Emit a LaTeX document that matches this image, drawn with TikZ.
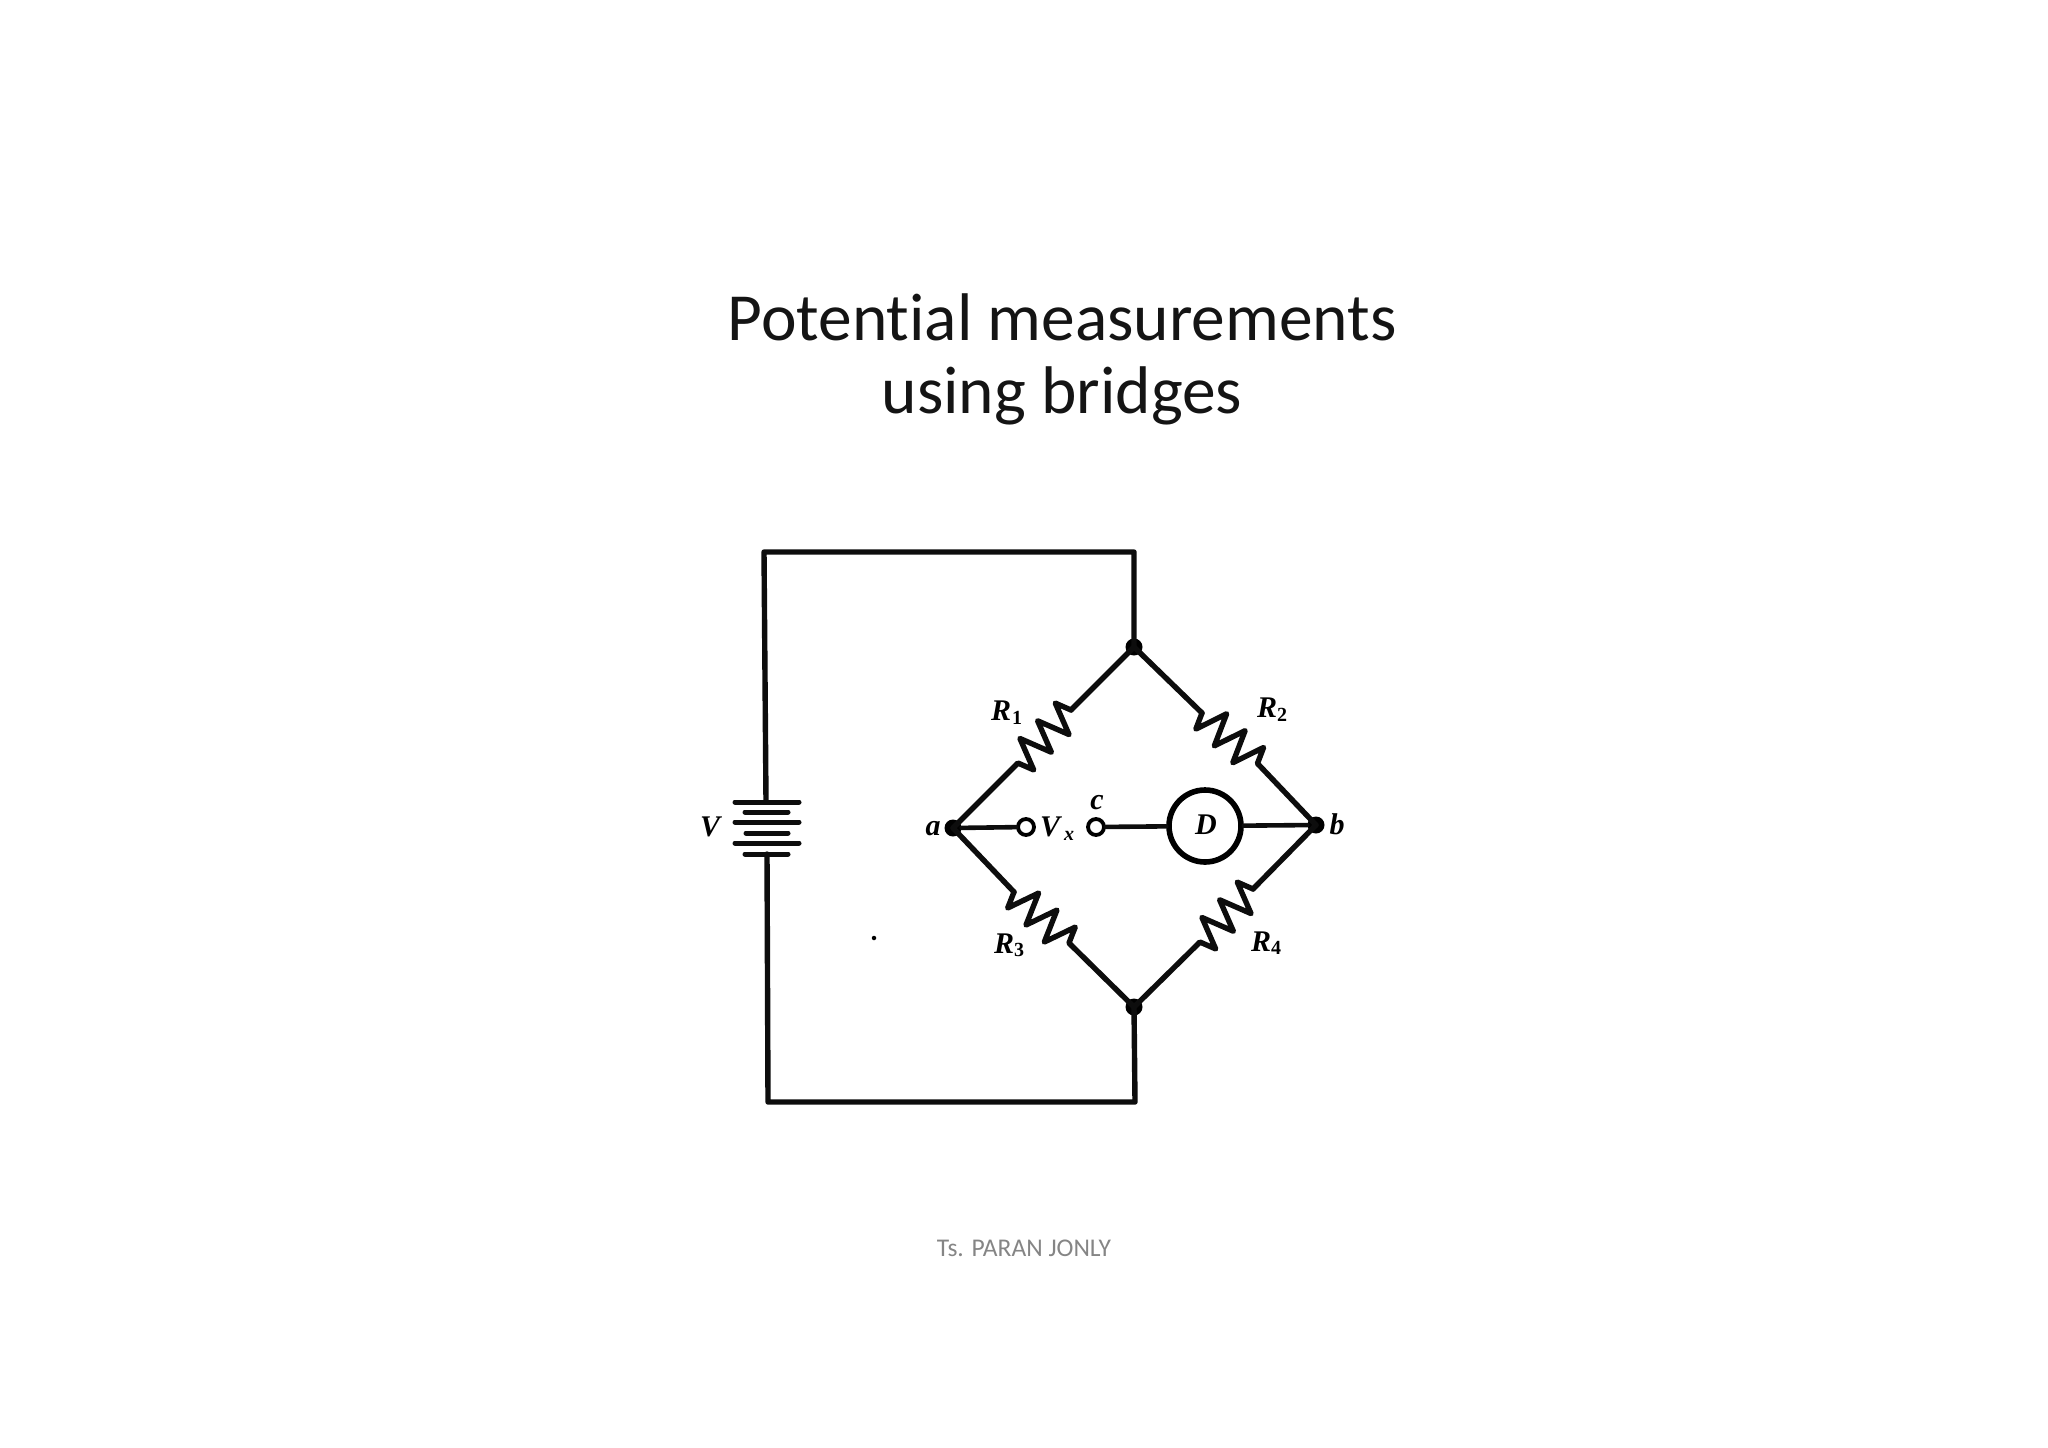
\documentclass[tikz,border=0pt]{standalone}
\usepackage{fontspec}
\setmainfont{Carlito}[Ligatures=NoCommon]
\newfontfamily\lblfont{Liberation Serif}[BoldFont=Liberation Serif Bold,BoldItalicFont=Liberation Serif Bold Italic]
\usetikzlibrary{decorations.pathmorphing}
\tikzset{
  wire/.style={line width=5.4pt,line cap=round,line join=round,black!95},
  thin wire/.style={line width=4.6pt,line cap=round,black!95},
  plate/.style={line width=5pt,line cap=round,black!95},
  resistor/.style={wire,decorate,decoration={zigzag,segment length=25pt,amplitude=16pt,mirror}},
  junction/.style={circle,fill=black,inner sep=0pt,minimum size=17pt},
  terminal/.style={circle,draw=black,fill=white,line width=3.8pt,inner sep=0pt,minimum size=16pt},
  detector/.style={circle,draw=black,line width=5.6pt,inner sep=0pt,minimum size=72pt},
  lbl/.style={inner sep=0pt,font=\lblfont\bfseries\itshape\fontsize{30}{30}\selectfont},
  sublbl/.style={inner sep=0pt,font=\lblfont\bfseries\itshape\fontsize{20}{20}\selectfont},
  numlbl/.style={inner sep=0pt,font=\lblfont\bfseries\fontsize{20}{20}\selectfont},
  titletext/.style={inner sep=0pt,align=center,anchor=base,font=\fontsize{67.4}{74}\selectfont,text=black!92},
  foot/.style={inner sep=0pt,anchor=base,font=\fontsize{25.5}{25.5}\selectfont,text=black!48}
}
\begin{document}
\begin{tikzpicture}[x=1pt,y=-1pt]
\useasboundingbox (0,0) rectangle (2048,1448);
% title and footer
\node[titletext] (title1) at (1062,340) {Potential measurements};
\node[titletext] (title2) at (1062,413) {using bridges};
\node[foot] (footer) at (1024,1256) {Ts. PARAN JONLY};
% corners of the outer loop
\coordinate (tl) at (764,552);
\coordinate (tr) at (1134,552);
\coordinate (bl) at (768,1102);
\coordinate (br) at (1135,1102);
% battery
\coordinate (p1l) at (735,802); \coordinate (p1r) at (799,802);
\coordinate (p2l) at (745,812); \coordinate (p2r) at (788,812);
\coordinate (p3l) at (735,822); \coordinate (p3r) at (799,822);
\coordinate (p4l) at (746,833); \coordinate (p4r) at (788,833);
\coordinate (p5l) at (735,843); \coordinate (p5r) at (799,843);
\coordinate (p6l) at (745,854); \coordinate (p6r) at (788,854);
\coordinate (bt) at (766,802);
\coordinate (bb) at (767,854);
\foreach \i in {1,...,6} \draw[plate] (p\i l) -- (p\i r);
% bridge nodes
\node[junction] (top) at (1134,647) {};
\node[junction] (bot) at (1134,1007) {};
\node[junction] (a) at (953,828) {};
\node[junction] (b) at (1316,825) {};
\node[terminal] (t1) at (1026,827) {};
\node[terminal] (t2) at (1096,827) {};
\node[detector] (D) at (1205,826) {};
% resistor ends
\coordinate (r1u) at (1071,710); \coordinate (r1l) at (1017,764);
\coordinate (r2u) at (1202,713); \coordinate (r2l) at (1258,764);
\coordinate (r3u) at (1014,892); \coordinate (r3l) at (1071,945);
\coordinate (r4u) at (1253,889); \coordinate (r4l) at (1199,943);
% connectors
\draw[wire] (top.center) -- (tr) -- (tl) -- (bt);
\draw[wire] (bot.center) -- (br) -- (bl) -- (bb);
\draw[wire] (top.center) -- (r1u);
\draw[resistor] (r1u) -- (r1l);
\draw[wire] (r1l) -- (a.center);
\draw[wire] (top.center) -- (r2u);
\draw[resistor] (r2u) -- (r2l);
\draw[wire] (r2l) -- (b.center);
\draw[wire] (a.center) -- (r3u);
\draw[resistor] (r3u) -- (r3l);
\draw[wire] (r3l) -- (bot.center);
\draw[wire] (b.center) -- (r4u);
\draw[resistor] (r4u) -- (r4l);
\draw[wire] (r4l) -- (bot.center);
\draw[thin wire] (a) -- (t1);
\draw[thin wire] (t2) -- (D);
\draw[thin wire] (D) -- (b);
% labels
\node[lbl] (lV) at (710,827) {V};
\node[lbl] (la) at (933,829) {a};
\node[lbl] (lb) at (1337,824) {b};
\node[lbl] (lc) at (1097,803) {c};
\node[lbl] (lVx) at (1050,827) {V};
\node[sublbl] (lx) at (1069,836) {x};
\node[lbl] (lD) at (1206,825) {D};
\node[lbl] (lR1) at (1001,711) {R};
\node[numlbl] (lR1s) at (1017,718) {1};
\node[lbl] (lR2) at (1267,708) {R};
\node[numlbl] (lR2s) at (1282,715) {2};
\node[lbl] (lR3) at (1004,944) {R};
\node[numlbl] (lR3s) at (1019,950) {3};
\node[lbl] (lR4) at (1261,942) {R};
\node[numlbl] (lR4s) at (1276,948) {4};
% stray speck
\node[circle,fill=black,inner sep=0pt,minimum size=4.5pt] (speck) at (874,938) {};
\end{tikzpicture}
\end{document}
